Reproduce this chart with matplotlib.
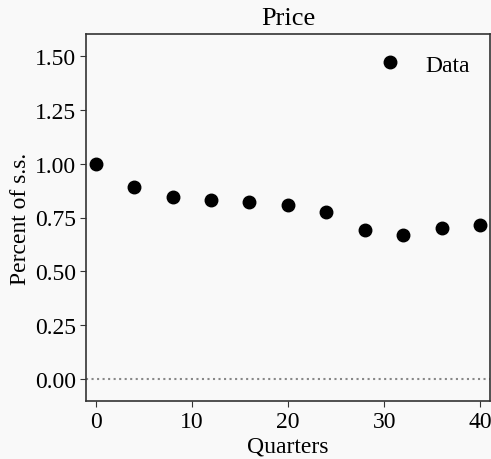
import matplotlib
matplotlib.use("Agg")
import matplotlib.pyplot as plt
from matplotlib.ticker import FormatStrFormatter

# Price response, percent of steady state, by quarter
quarters = [0, 4, 8, 12, 16, 20, 24, 28, 32, 36, 40]
price = [1.00, 0.89, 0.845, 0.83, 0.82, 0.81, 0.775, 0.69, 0.67, 0.70, 0.715]

plt.rcParams['font.family'] = ['Liberation Serif', 'DejaVu Serif']

fig, ax = plt.subplots(figsize=(4.91, 4.60), dpi=100)
fig.patch.set_facecolor('#f9f9f9')
ax.set_facecolor('#f9f9f9')

ax.axhline(0, color='#888888', linestyle=':', linewidth=1.5)
ax.plot(quarters, price, 'o', color='black', markersize=9, label='Data')

ax.set_xlim(-1, 41)
ax.set_ylim(-0.1, 1.6)
ax.set_xticks([0, 10, 20, 30, 40])
ax.set_yticks([0, 0.25, 0.5, 0.75, 1.0, 1.25, 1.5])
ax.yaxis.set_major_formatter(FormatStrFormatter('%.2f'))
ax.tick_params(labelsize=17, length=4, color='#333333', pad=3)

for sp in ax.spines.values():
    sp.set_color('#333333')
    sp.set_linewidth(1.2)

ax.set_title('Price', fontsize=19, pad=7)
ax.set_xlabel('Quarters', fontsize=17, labelpad=3)
ax.set_ylabel('Percent of s.s.', fontsize=17, labelpad=3)
ax.legend(loc='upper right', bbox_to_anchor=(0.985, 0.984), frameon=False,
          fontsize=17, handletextpad=0.5, borderaxespad=0.2, handlelength=2.0)

fig.subplots_adjust(left=0.175, right=0.998, top=0.924, bottom=0.126)
fig.savefig('out.png', dpi=100, facecolor=fig.get_facecolor())
